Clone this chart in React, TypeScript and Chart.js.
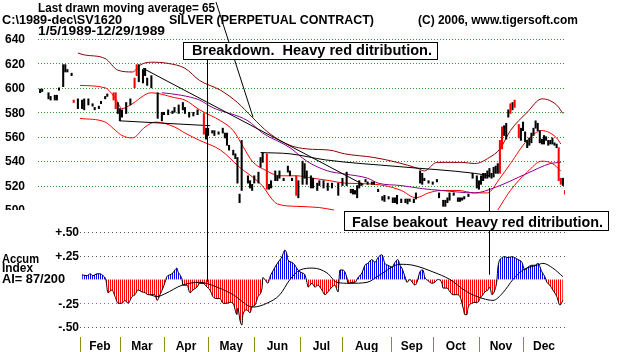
import React, { useEffect, useRef } from 'react';
import { Chart, registerables } from 'chart.js';
Chart.register(...registerables);

const W = 620;
const H = 352;

// ---------- DATA (trading-day index from 1/5/1989) ----------
const monthStartDays = [20, 39, 60, 81, 103, 125, 145, 168, 188, 210, 231];
const monthNames = ['Feb', 'Mar', 'Apr', 'May', 'Jun', 'Jul', 'Aug', 'Sep', 'Oct', 'Nov', 'Dec'];
const lastDay = 251;

const priceTicks = [640, 620, 600, 580, 560, 540, 520, 500];
const aiTicks = [0.5, 0.25, -0.25, -0.5];
const aiTickLabels = ['+.50', '+.25', '-.25', '-.50'];

const barDay = [1,2,5,6,8,9,10,12,13,14,16,17,19,21,22,24,26,27,29,30,32,33,36,37,38,39,40,42,44,46,47,48,50,51,52,54,57,59,60,62,64,65,67,69,70,72,74,76,79,80,81,83,84,86,88,89,90,91,93,94,95,96,97,100,101,102,103,105,106,107,109,110,111,113,114,115,117,119,120,121,123,124,126,127,128,130,131,133,134,136,138,140,143,145,147,149,150,151,152,153,154,156,157,159,160,162,164,165,167,169,170,171,173,175,176,177,179,180,182,183,184,186,188,190,191,193,194,195,196,198,200,201,202,203,205,207,209,210,211,212,213,214,215,216,217,218,219,220,221,222,223,224,225,226,227,229,230,231,232,233,234,235,236,237,238,239,240,241,242,243,244,245,246,247,248,249,250,251];
const barLow = [596,597,591,590,590,590,598,601,613,613,610,588,583,583,582,586,585,582,583,587,591,593,590,583,579,573,576,579,586,600,610,605,604,610,602,600,575,573,578,578,579,580,579,582,579,576,577,578,562,558,561,563,561,562,563,559,553,549,545,542,522,506,516,522,518,516,522,522,535,539,517,517,518,524,524,526,524,531,528,524,512,510,521,526,521,518,518,516,520,518,516,518,512,520,520,514,513,513,510,518,520,523,521,521,521,515,508,507,509,506,506,505,506,506,505,507,506,509,522,521,524,522,521,523,510,503,503,506,508,512,507,507,508,509,511,526,518,517,521,524,526,526,527,526,527,530,530,530,550,561,558,576,579,582,584,559,557,565,556,551,553,555,561,567,565,555,554,554,557,553,554,554,553,551,524,521,520,513];
const barHigh = [599,599,596,593,594,594,600,619,619,615,612,590,591,590,591,591,587,584,585,589,593,595,596,596,588,583,582,588,591,608,619,619,615,616,608,610,596,580,580,582,581,584,586,588,584,580,580,582,579,567,567,565,565,564,567,563,563,553,549,546,543,513,557,528,524,521,528,531,543,547,546,521,524,532,528,532,526,536,532,526,528,524,540,538,532,528,526,522,524,524,522,522,522,526,531,517,517,516,520,524,522,525,523,523,523,517,511,512,511,510,510,512,509,509,509,509,509,514,532,530,526,524,523,525,514,508,508,510,514,514,510,510,510,511,513,530,528,524,528,530,530,532,534,530,535,536,538,557,568,569,571,582,587,588,590,570,567,572,564,557,559,563,567,573,571,565,558,561,560,557,557,559,555,554,551,526,526,516];
const barRed = [0,0,0,0,0,0,0,0,0,0,0,1,0,0,0,0,0,0,0,0,0,0,1,1,0,0,0,0,0,1,1,0,0,0,0,0,0,0,0,0,0,0,0,0,0,0,0,0,1,0,0,0,0,0,0,0,0,0,0,0,0,0,0,0,0,0,0,0,0,0,1,0,0,0,0,0,0,0,0,0,1,0,0,0,0,0,0,0,0,0,0,0,0,0,0,0,0,0,0,0,0,0,0,0,0,0,0,0,0,0,0,0,0,0,0,0,0,0,0,0,0,0,0,0,0,0,0,0,0,0,0,0,0,0,0,0,0,0,0,0,0,0,0,0,0,0,0,1,1,0,0,0,1,0,1,1,0,0,0,0,0,0,0,0,0,0,0,0,0,0,0,0,0,0,1,1,0,1];

// Bands & moving averages on the price panel
const maroonDay = [19,22,32,38,45,49,54,62,70,77,87,95,102,110,120,128,139,146,160,171,181,184,190,202,208,215,220,225,233,240,247,250];
const maroonVal = [628.5,627,624,614.5,613,619,621,620,616,606,598,588,576,563,553,550,549,546,543,539,534,532,539,539,538,543,550,565,580,591,586,579];
const redMidDay = [20,32,37,40,44,54,65,70,77,87,93,98,102,109,115,123,131,139,146,156,165,173,180,186,192,200,208,214,220,225,233,240,247,249];
const redMidVal = [602,600,591,583,586,596,592,590,582,573,565,551,540,532,528,528,526,524,522,521.5,520,516,510,514,516,516,514,514,526,538,557,565,559,554];
const redLowDay = [20,32,37,40,45,51,56,65,70,77,87,96,106,114,123,134,141,180,219,225,233,240,245,249];
const redLowVal = [575,572,565,561,559,568,572,568,563,557,549,535,521.5,505,503,502,500,null,500,516,531,540,538,532];
const purpleDay = [59,68,77,83,100,107,120,128,138,146,157,162,173,183,192,208,217,233,244,249];
const purpleVal = [596,594,590,584,573,563,551,540,532,529.5,526,522,520,517.5,516,514,518,530,538,539];
const trendDay = [50,155];
const trendVal = [616,520.7];
const supportDay = [39,82];
const supportVal = [573,569];
const ma65Day = [106,120,137,172,208,215];
const ma65Val = [547,546,541,535.5,530,528];

// Accumulation Index
const aiDay = [21,23.3,24.8,26.2,28.1,29.5,31,32.4,33.3,35.2,36.7,38.1,40,41.4,42.9,44.8,46.2,47.6,49.5,51,52.4,54.3,55.7,56.7,58.1,59.5,60.5,61.4,62.9,64.3,65.2,66.2,66.7,67.6,68.6,69,71,72.4,73.8,75.7,77.1,78.6,80.5,81.9,83.3,85.2,86.7,88.1,90,91.4,92.9,94.8,95.2,96.2,97.1,97.6,99.5,101,101.9,103.3,104.8,106.7,107.1,108.1,109.5,110.5,111.4,112.9,114.3,116.2,117.6,118.6,119,121,122.4,123.8,125.7,127.1,128.1,128.6,130.5,131.9,133.3,135.2,136.7,138.1,140,141.4,142.9,143.8,145.2,147.1,147.6,149.5,151,152.4,154.3,155.7,157.1,159,160.5,161.9,163.8,165.2,166.7,168.6,170,171.4,172.4,173.3,174.8,175.7,177.1,178.6,179.5,180.5,181.9,183.3,184.3,185.7,187.6,189,190.5,192.4,192.9,194.8,196.2,197.6,199.5,201,202.4,203.3,204.3,204.8,206.7,208.1,209.5,210.5,211.9,212.9,214.3,215.2,216.2,217.6,218.6,219,221,222.4,223.8,225.7,227.1,228.6,230.5,231.9,233.3,235.2,236.7,238.1,240,241.4,242.4,243.8,245.2,247.1,248.6,250];
const aiVal = [0.05,0.04,0.06,0.04,0.06,0.06,0.04,-0.01,-0.14,-0.11,-0.18,-0.25,-0.25,-0.22,-0.25,-0.18,-0.16,-0.11,-0.13,-0.14,-0.16,-0.16,-0.16,-0.22,-0.16,-0.09,-0.03,0.03,0.05,0.07,0.1,0.12,0.08,0.05,0,-0.06,-0.06,-0.14,-0.11,-0.08,-0.04,-0.04,-0.08,-0.11,-0.18,-0.2,-0.2,-0.25,-0.25,-0.24,-0.25,-0.37,-0.3,-0.43,-0.48,-0.37,-0.32,-0.35,-0.29,-0.27,-0.18,-0.09,0.02,0,-0.04,0.03,0.07,0.13,0.18,0.24,0.31,0.26,0.21,0.18,0.15,0.1,0.07,0.05,-0.03,-0.08,-0.04,-0.08,-0.06,-0.11,-0.16,-0.13,-0.08,-0.06,-0.13,0.1,0.1,0.02,-0.04,-0.03,-0.03,0.02,0.07,0.15,0.17,0.21,0.18,0.23,0.26,0.17,0.15,0.13,0.18,0.21,0.15,0.12,0.03,-0.03,0,-0.04,-0.06,-0.03,0.08,0.1,0.02,-0.01,-0.04,-0.03,0,-0.04,-0.09,-0.09,-0.13,-0.16,-0.16,-0.18,-0.29,-0.37,-0.37,-0.3,-0.25,-0.24,-0.24,-0.2,-0.16,-0.13,-0.11,-0.08,-0.16,-0.11,0,0.12,0.23,0.24,0.23,0.24,0.23,0.21,0.18,0.1,0.13,0.15,0.15,0.17,0.08,0.03,-0.03,-0.06,-0.11,-0.18,-0.27,-0.22];
const aiMaDay = [53.3,56.7,60.5,68.6,77.1,85.2,92.9,102.4,109,115.2,120,124.8,131,137.6,142.4,148.6,156.7,162.9,172.4,178.6,188.1,196.2,204.3,211.9,216.7,221.4,226.2,231,237.6,240.5,245.2,250];
const aiMaVal = [-0.16,-0.18,-0.15,-0.06,-0.03,-0.08,-0.16,-0.29,-0.25,-0.16,0,0.1,0.12,0.07,-0.03,-0.04,-0.03,0.05,0.16,0.15,0.08,0,-0.13,-0.2,-0.22,-0.14,0,0.1,0.15,0.17,0.12,0.03];

// Annotation anchors (data values)
const breakdownDay = 80.7;
const falseBreakDay = 214.8;
const falseBreakPrice = 518;
const pointerDay = 102.4;
const pointerPrice = 576;

// ---------- LAYOUT ----------
const PLOT = { left: 38, right: 565, top: 39, bottom: 337 };
const PRICE_LOW_PX = 210; // pixel row of 500
const AI_HALF_UP_PX = 232; // +.50
const AI_HALF_DN_PX = 327; // -.50
const pxPerPrice = (PRICE_LOW_PX - PLOT.top) / (640 - 500);
const priceMin = 640 - (PLOT.bottom - PLOT.top) / pxPerPrice;
const pxPerAI = AI_HALF_DN_PX - AI_HALF_UP_PX;
const aiMax = 0.5 + (AI_HALF_UP_PX - PLOT.top) / pxPerAI;
const aiMin = -0.5 - (PLOT.bottom - AI_HALF_DN_PX) / pxPerAI;

const FONT = '"Liberation Sans", Arial, sans-serif';
const BOLD12 = 'bold 12px ' + FONT;

const pts = (d: number[], v: (number | null)[]) => d.map((x, i) => ({ x, y: v[i] }));

function fitText(ctx: CanvasRenderingContext2D, text: string, x: number, y: number, font: string, width: number) {
  ctx.font = font;
  const w = ctx.measureText(text).width;
  ctx.save();
  ctx.translate(x, y);
  ctx.scale(width / w, 1);
  ctx.textAlign = 'left';
  ctx.textBaseline = 'alphabetic';
  ctx.fillText(text, 0, 0);
  ctx.restore();
}

function seg(ctx: CanvasRenderingContext2D, x1: number, y1: number, x2: number, y2: number) {
  ctx.beginPath();
  ctx.moveTo(x1, y1);
  ctx.lineTo(x2, y2);
  ctx.stroke();
}

const overlay = {
  id: 'overlay',
  beforeDatasetsDraw(chart: any) {
    const { ctx, scales } = chart;
    const x = scales.x, yP = scales.yP, yA = scales.yA;
    ctx.save();
    ctx.lineWidth = 1;
    ctx.strokeStyle = '#2c9c2c';
    ctx.setLineDash([1, 2]);
    priceTicks.forEach((v) => {
      if (v <= 500) return;
      const y = Math.round(yP.getPixelForValue(v)) + 0.5;
      seg(ctx, x.left, y, x.right, y);
    });
    ctx.setLineDash([1, 3]);
    const aiLeft = x.getPixelForValue(monthStartDays[0]);
    aiTicks.forEach((v) => {
      ctx.strokeStyle = v === -0.25 ? '#b050b0' : '#555555';
      const y = Math.round(yA.getPixelForValue(v)) + 0.5;
      seg(ctx, aiLeft, y, x.right, y);
    });
    ctx.restore();
  },
  afterDatasetsDraw(chart: any) {
    const { ctx, scales } = chart;
    const x = scales.x, yP = scales.yP, yA = scales.yA;
    ctx.save();
    ctx.fillStyle = '#000';

    // price tick labels (500 clipped by the panel edge)
    ctx.save();
    ctx.beginPath();
    ctx.rect(0, 0, W, yP.getPixelForValue(500));
    ctx.clip();
    ctx.font = BOLD12;
    ctx.textAlign = 'left';
    ctx.textBaseline = 'middle';
    priceTicks.forEach((v) => ctx.fillText(String(v), 5, yP.getPixelForValue(v) + 1));
    ctx.restore();

    // AI tick labels
    ctx.font = BOLD12;
    ctx.textAlign = 'right';
    ctx.textBaseline = 'middle';
    aiTicks.forEach((v, i) => ctx.fillText(aiTickLabels[i], 79, yA.getPixelForValue(v) + 1));

    fitText(ctx, 'Accum', 2, 263, BOLD12, 37);
    fitText(ctx, 'Index', 2, 272, BOLD12, 31);
    fitText(ctx, 'AI= 87/200', 2, 283, BOLD12, 63);

    // month separators and labels
    ctx.strokeStyle = '#8f8f10';
    ctx.lineWidth = 1;
    monthStartDays.forEach((d) => {
      const px = Math.round(x.getPixelForValue(d)) + 0.5;
      seg(ctx, px, 337, px, 352);
    });
    ctx.font = BOLD12;
    ctx.textAlign = 'center';
    ctx.textBaseline = 'alphabetic';
    monthNames.forEach((m, i) => {
      const a = monthStartDays[i];
      const b = i + 1 < monthStartDays.length ? monthStartDays[i + 1] : lastDay;
      ctx.fillText(m, x.getPixelForValue((a + b) / 2), 350);
    });

    // header texts
    fitText(ctx, 'Last drawn moving average= 65', 38, 11.5, BOLD12, 177);
    fitText(ctx, 'C:\\1989-dec\\SV1620', 2, 24, BOLD12, 120);
    fitText(ctx, 'SILVER (PERPETUAL CONTRACT)', 169, 24, BOLD12, 205);
    fitText(ctx, '(C) 2006, www.tigersoft.com', 418, 24, BOLD12, 160);
    fitText(ctx, '1/5/1989-12/29/1989', 38, 35, BOLD12, 127);

    // pointer from the MA caption
    ctx.strokeStyle = '#000';
    ctx.lineWidth = 1;
    seg(ctx, 216, 2, x.getPixelForValue(pointerDay), yP.getPixelForValue(pointerPrice));

    // breakdown vertical
    const bx = Math.round(x.getPixelForValue(breakdownDay)) + 0.5;
    seg(ctx, bx, 59, bx, yA.getPixelForValue(-0.03));
    // false breakout vertical
    const fx = Math.round(x.getPixelForValue(falseBreakDay)) + 0.5;
    seg(ctx, fx, yP.getPixelForValue(falseBreakPrice), fx, yA.getPixelForValue(0.05));

    // boxes
    const box = (l: number, t: number, w: number, h: number, text: string, tx: number, ty: number, tw: number) => {
      ctx.fillStyle = '#fff';
      ctx.fillRect(l, t, w, h);
      ctx.strokeStyle = '#000';
      ctx.lineWidth = 1;
      ctx.strokeRect(l + 0.5, t + 0.5, w, h);
      ctx.fillStyle = '#000';
      fitText(ctx, text, tx, ty, 'bold 14px ' + FONT, tw);
    };
    box(183, 42, 254, 17, 'Breakdown.  Heavy red ditribution.', 192, 55, 240);
    box(344, 211, 264, 19, 'False beakout  Heavy red ditribution.', 352, 227, 251);

    ctx.restore();
  },
};

function stripe(color: string) {
  const c = document.createElement('canvas');
  c.width = 2;
  c.height = 2;
  const g = c.getContext('2d')!;
  g.fillStyle = color;
  g.fillRect(0, 0, 1, 2);
  return g.createPattern(c, 'repeat')!;
}

export default function App() {
  const ref = useRef<HTMLCanvasElement>(null);
  useEffect(() => {
    const canvas = ref.current!;
    const blackBars: any[] = [];
    const redBars: any[] = [];
    barDay.forEach((d, i) => {
      const p = { x: d, y: [barLow[i], barHigh[i]] };
      (barRed[i] ? redBars : blackBars).push(p);
    });
    const line = (data: any[], color: string, yAxisID = 'yP', extra: any = {}) => ({
      type: 'line',
      data,
      borderColor: color,
      borderWidth: 1,
      pointRadius: 0,
      tension: 0.4,
      cubicInterpolationMode: 'monotone',
      fill: false,
      yAxisID,
      xAxisID: 'x',
      spanGaps: false,
      ...extra,
    });
    const chart = new Chart(canvas, {
      type: 'line',
      data: {
        datasets: [
          { type: 'bar', data: redBars, backgroundColor: '#ff0000', barThickness: 1.4, grouped: false, yAxisID: 'yP', xAxisID: 'x' } as any,
          { type: 'bar', data: blackBars, backgroundColor: '#000000', barThickness: 1.4, grouped: false, yAxisID: 'yP', xAxisID: 'x' } as any,
          line(pts(trendDay, trendVal), '#000000', 'yP', { tension: 0 }),
          line(pts(supportDay, supportVal), '#000000', 'yP', { tension: 0 }),
          line(pts(ma65Day, ma65Val), '#000000', 'yP', { tension: 0 }),
          line(pts(purpleDay, purpleVal), '#8a008a'),
          line(pts(redMidDay, redMidVal), '#ff0000'),
          line(pts(redLowDay, redLowVal), '#ff0000'),
          line(pts(maroonDay, maroonVal), '#8b0000'),
          line(pts(aiMaDay, aiMaVal), '#000000', 'yA'),
          line(pts(aiDay, aiVal), '#000000', 'yA', {
            tension: 0,
            fill: { target: { value: 0 }, above: stripe('#0000ff'), below: stripe('#ff0000') },
          }),
        ] as any,
      },
      options: {
        animation: false,
        responsive: false,
        devicePixelRatio: 1,
        events: [],
        layout: { padding: { left: PLOT.left, right: W - PLOT.right, top: PLOT.top, bottom: H - PLOT.bottom } },
        plugins: { legend: { display: false }, tooltip: { enabled: false }, title: { display: false } },
        scales: {
          x: { type: 'linear', min: 0, max: lastDay, display: false, offset: false },
          yP: { type: 'linear', min: priceMin, max: 640, display: false },
          yA: { type: 'linear', min: aiMin, max: aiMax, display: false },
        },
      } as any,
      plugins: [overlay],
    });
    return () => chart.destroy();
  }, []);
  return (
    <div style={{ position: 'fixed', left: 0, top: 0, width: W, height: H, background: '#fff' }}>
      <canvas ref={ref} width={W} height={H} style={{ display: 'block', width: W, height: H }} />
    </div>
  );
}
